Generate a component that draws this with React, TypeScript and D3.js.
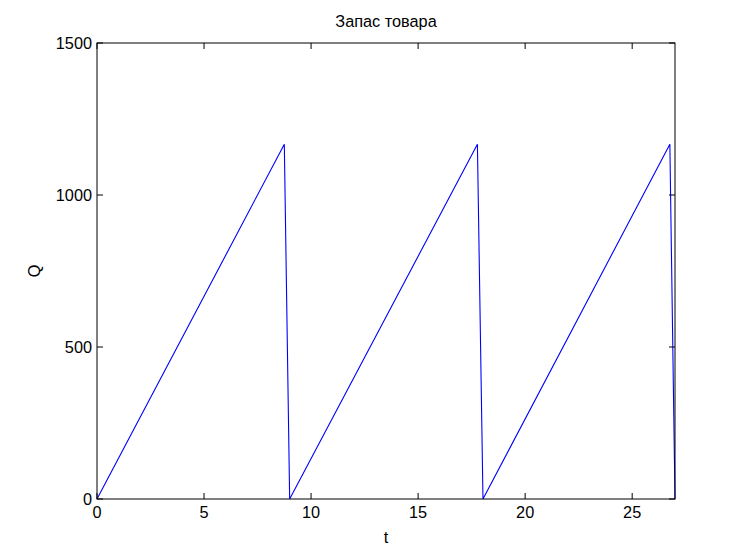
import * as d3 from 'd3';

// sawtooth inventory: rises to the peak, then drops back to zero
const times = [0, 8.75, 9, 17.77, 18.03, 26.76, 27];
const stock = [0, 1167, 0, 1167, 0, 1167, 0];

const xTicks = [0, 5, 10, 15, 20, 25];
const yTicks = [0, 500, 1000, 1500];

const WIDTH = 747;
const HEIGHT = 560;
const MARGINS = { top: 43, right: 72, bottom: 61, left: 97 };
const FONT = '"Liberation Sans", Arial, sans-serif';
const FS = 16.3;
const TICK = 6;

const App = () => {
  const x = d3
    .scaleLinear()
    .domain([0, 27])
    .range([MARGINS.left, WIDTH - MARGINS.right]);
  const y = d3
    .scaleLinear()
    .domain([0, 1500])
    .range([HEIGHT - MARGINS.bottom, MARGINS.top]);

  const points = times.map((t, i) => [t, stock[i]] as [number, number]);
  const line = d3
    .line<[number, number]>()
    .x((p) => x(p[0]))
    .y((p) => y(p[1]));

  const [x0, x1] = x.range();
  const [y0, y1] = y.range();

  return (
    <svg
      width={WIDTH}
      height={HEIGHT}
      style={{ position: 'absolute', left: 0, top: 0, background: 'white' }}
      fontFamily={FONT}
    >
      <text x={(x0 + x1) / 2} y={27} textAnchor="middle" fontSize={FS}>
        Запас товара
      </text>

      <path d={line(points) ?? ''} fill="none" stroke="#0000ff" strokeWidth={1.1} />

      {/* x ticks, inward on bottom and top */}
      {xTicks.map((t) => (
        <g key={`x${t}`}>
          <line x1={x(t)} x2={x(t)} y1={y0} y2={y0 - TICK} stroke="black" />
          <line x1={x(t)} x2={x(t)} y1={y1} y2={y1 + TICK} stroke="black" />
          <text x={x(t)} y={y0 + 19} textAnchor="middle" fontSize={FS}>
            {t}
          </text>
        </g>
      ))}

      {/* y ticks, inward on left and right */}
      {yTicks.map((v) => (
        <g key={`y${v}`}>
          <line x1={x0} x2={x0 + TICK} y1={y(v)} y2={y(v)} stroke="black" />
          <line x1={x1} x2={x1 - TICK} y1={y(v)} y2={y(v)} stroke="black" />
          <text x={x0 - 5} y={y(v) + 5.5} textAnchor="end" fontSize={FS}>
            {v}
          </text>
        </g>
      ))}

      <rect
        x={x0}
        y={y1}
        width={x1 - x0}
        height={y0 - y1}
        fill="none"
        stroke="black"
        strokeWidth={1}
      />

      <text x={(x0 + x1) / 2} y={y0 + 44} textAnchor="middle" fontSize={FS}>
        t
      </text>
      <text
        transform={`translate(${x0 - 57}, ${(y0 + y1) / 2}) rotate(-90)`}
        textAnchor="middle"
        fontSize={FS}
      >
        Q
      </text>
    </svg>
  );
};

export default App;
